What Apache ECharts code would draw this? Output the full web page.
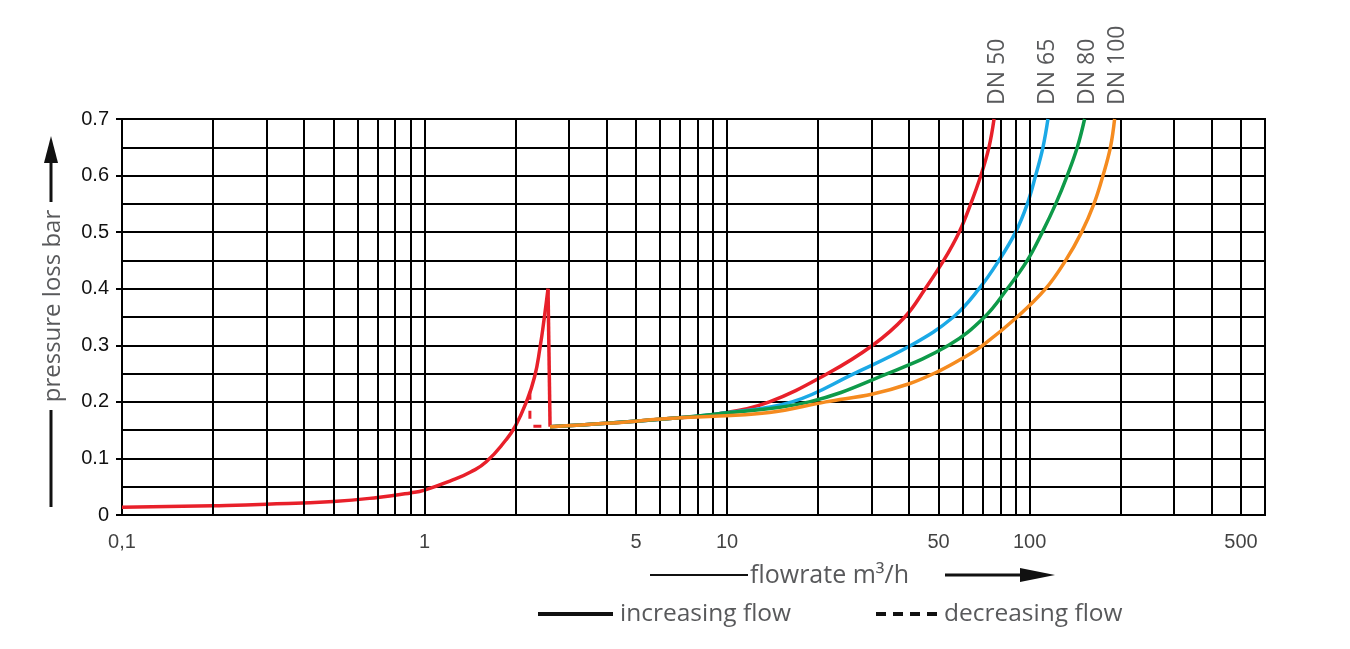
<!DOCTYPE html>
<html>
<head>
<meta charset="utf-8">
<title>pressure loss</title>
<script src="https://cdn.jsdelivr.net/npm/echarts@6/dist/echarts.min.js"></script>
<style>
  html, body { margin: 0; padding: 0; background: #fff; }
  #chartArea { width: 1350px; height: 649px; }
</style>
</head>
<body>
<div id="chartArea"></div>
<script>
// vertical grid lines (m3/h), bottom labels
var gridLinesX = [0.2, 0.3, 0.4, 0.5, 0.6, 0.7, 0.8, 0.9, 1, 2, 3, 4, 5, 6, 7, 8, 9, 10,
    20, 30, 40, 50, 60, 70, 80, 90, 100, 200, 300, 400, 500];
var xLabelValues = [0.1, 1, 5, 10, 50, 100, 500];
var xLabelTexts = ['0,1', '1', '5', '10', '50', '100', '500'];

// DN 50 (increasing flow): rise, drop, then main curve
var dn50Rise = [[0.1, 0.0135], [0.2, 0.0165], [0.3, 0.019], [0.5, 0.024], [0.7, 0.031], [0.9, 0.039],
    [1.0, 0.044], [1.24, 0.062], [1.42, 0.076], [1.6, 0.094], [1.86, 0.133], [2.0, 0.158],
    [2.16, 0.197], [2.31, 0.244], [2.41, 0.297], [2.49, 0.35], [2.56, 0.40]];
var dn50Drop = [[2.56, 0.40], [2.6, 0.156]];
var dn50 = [[2.6, 0.156], [4, 0.162], [6.6, 0.171], [9.4, 0.179], [13.8, 0.20], [21.5, 0.25],
    [30.3, 0.30], [38.7, 0.35], [45.2, 0.40], [52, 0.45], [58.5, 0.50], [63.9, 0.55],
    [69, 0.60], [73.4, 0.65], [76.3, 0.70]];
// DN 50 decreasing flow
var dn50Back = [[2.23, 0.218], [2.23, 0.157], [2.6, 0.157]];

var dn65 = [[2.6, 0.156], [4, 0.162], [6.6, 0.171], [9.4, 0.179], [16.4, 0.20], [26.3, 0.25],
    [40.6, 0.30], [56, 0.35], [68.1, 0.40], [79.2, 0.45], [89.9, 0.50], [98.3, 0.55],
    [104.7, 0.60], [110.7, 0.65], [115, 0.70]];
var dn80 = [[2.6, 0.156], [4, 0.162], [6.6, 0.171], [9.4, 0.179], [18.7, 0.20], [33.9, 0.25],
    [54, 0.30], [71, 0.35], [84.4, 0.40], [98.3, 0.45], [110.2, 0.50], [122, 0.55],
    [133.2, 0.60], [143.8, 0.65], [152, 0.70]];
var dn100 = [[2.6, 0.156], [4, 0.162], [6.6, 0.171], [9.4, 0.175], [13.8, 0.181], [21.2, 0.20],
    [30.3, 0.214], [40, 0.232], [50, 0.254], [60, 0.277], [70, 0.30], [91, 0.35], [113, 0.40],
    [131.6, 0.45], [148.6, 0.50], [163.2, 0.55], [174.8, 0.60], [185, 0.65], [191, 0.70]];

var RED = '#e8202a', BLUE = '#1ba9e6', GREEN = '#0e9a49', ORANGE = '#f58b1f';
var GREY = '#58595b';
var TXT = '"Open Sans", "Noto Sans", sans-serif';

function curve(data, color, smooth, z) {
    return {
        type: 'line',
        data: data,
        symbol: 'none',
        smooth: smooth,
        silent: true,
        z: z,
        lineStyle: {color: color, width: 3.5}
    };
}

function label(text, x, y, size, rotate, align) {
    return {
        type: 'text', x: x, y: y, rotation: rotate ? Math.PI / 2 : 0,
        style: {text: text, fontSize: size, fill: GREY, fontFamily: TXT, align: align, verticalAlign: 'middle'}
    };
}

var option = {
    animation: false,
    grid: {
        left: 122, top: 119, right: 85, bottom: 134,
        show: true, borderColor: '#000', borderWidth: 2
    },
    xAxis: {
        type: 'log',
        logBase: 10,
        min: 0.1,
        max: 600,
        axisLine: {show: false},
        axisTick: {show: false},
        axisLabel: {show: false},
        splitLine: {show: false}
    },
    yAxis: {
        type: 'value',
        min: 0,
        max: 0.7,
        interval: 0.1,
        axisLine: {show: true, lineStyle: {color: '#000', width: 2}},
        axisTick: {show: true, length: 6, lineStyle: {color: '#000', width: 2}},
        axisLabel: {
            margin: 13,
            fontSize: 20,
            color: '#111',
            fontFamily: '"Liberation Sans", Arial, sans-serif',
            formatter: function (v) { return v === 0 ? '0' : v.toFixed(1); }
        },
        splitLine: {show: true, lineStyle: {color: '#000', width: 2}},
        minorTick: {show: false, splitNumber: 2},
        minorSplitLine: {show: true, lineStyle: {color: '#000', width: 2}}
    },
    series: [
        {
            type: 'line',
            data: [[0.1, 0]],
            symbol: 'none',
            silent: true,
            z: 1,
            lineStyle: {width: 0},
            markLine: {
                silent: true,
                symbol: ['none', 'none'],
                label: {show: false},
                lineStyle: {color: '#000', width: 2, type: 'solid'},
                emphasis: {disabled: true},
                data: gridLinesX.map(function (v) { return {xAxis: v}; })
            }
        },
        {
            type: 'scatter',
            data: xLabelValues.map(function (v, i) { return [v, 0, xLabelTexts[i]]; }),
            symbolSize: 1,
            clip: false,
            silent: true,
            itemStyle: {color: 'rgba(0,0,0,0)'},
            label: {
                show: true,
                position: 'bottom',
                distance: 17,
                fontSize: 20,
                color: '#111',
                fontFamily: '"Liberation Sans", Arial, sans-serif',
                formatter: function (p) { return p.data[2]; }
            }
        },
        curve(dn50Rise, RED, 0.5, 3),
        curve(dn50Drop, RED, false, 3),
        curve(dn50, RED, 0.4, 3),
        {
            type: 'line',
            data: dn50Back,
            symbol: 'none',
            silent: true,
            z: 3,
            lineStyle: {color: RED, width: 3, type: [8, 11]}
        },
        curve(dn65, BLUE, 0.4, 4),
        curve(dn80, GREEN, 0.4, 5),
        curve(dn100, ORANGE, 0.4, 6)
    ],
    graphic: [
        // DN labels
        label('DN 50', 997, 105, 23, true, 'left'),
        label('DN 65', 1047, 105, 23, true, 'left'),
        label('DN 80', 1087, 105, 23, true, 'left'),
        label('DN 100', 1117, 105, 23, true, 'left'),
        // y axis name with arrow
        label('pressure loss bar', 53, 306, 24, true, 'center'),
        {type: 'line', shape: {x1: 51, y1: 507, x2: 51, y2: 410}, style: {stroke: '#111', lineWidth: 3}},
        {type: 'line', shape: {x1: 51, y1: 202, x2: 51, y2: 158}, style: {stroke: '#111', lineWidth: 3}},
        {type: 'polygon', shape: {points: [[44, 163], [51, 136], [58, 163]]}, style: {fill: '#111'}},
        // x axis name with arrow
        {type: 'line', shape: {x1: 650, y1: 575, x2: 748, y2: 575}, style: {stroke: '#111', lineWidth: 2}},
        label('flowrate m³/h', 750, 576, 25, false, 'left'),
        {type: 'line', shape: {x1: 945, y1: 575, x2: 1025, y2: 575}, style: {stroke: '#111', lineWidth: 3}},
        {type: 'polygon', shape: {points: [[1020, 568], [1055, 575], [1020, 582]]}, style: {fill: '#111'}},
        // legend
        {type: 'line', shape: {x1: 538, y1: 614, x2: 613, y2: 614}, style: {stroke: '#111', lineWidth: 4}},
        label('increasing flow', 620, 614, 24.5, false, 'left'),
        {type: 'line', shape: {x1: 876, y1: 614, x2: 937, y2: 614}, style: {stroke: '#111', lineWidth: 4, lineDash: [10, 7]}},
        label('decreasing flow', 944, 614, 24.5, false, 'left')
    ]
};

var myChart = echarts.init(document.getElementById('chartArea'));
myChart.setOption(option);
</script>
</body>
</html>
